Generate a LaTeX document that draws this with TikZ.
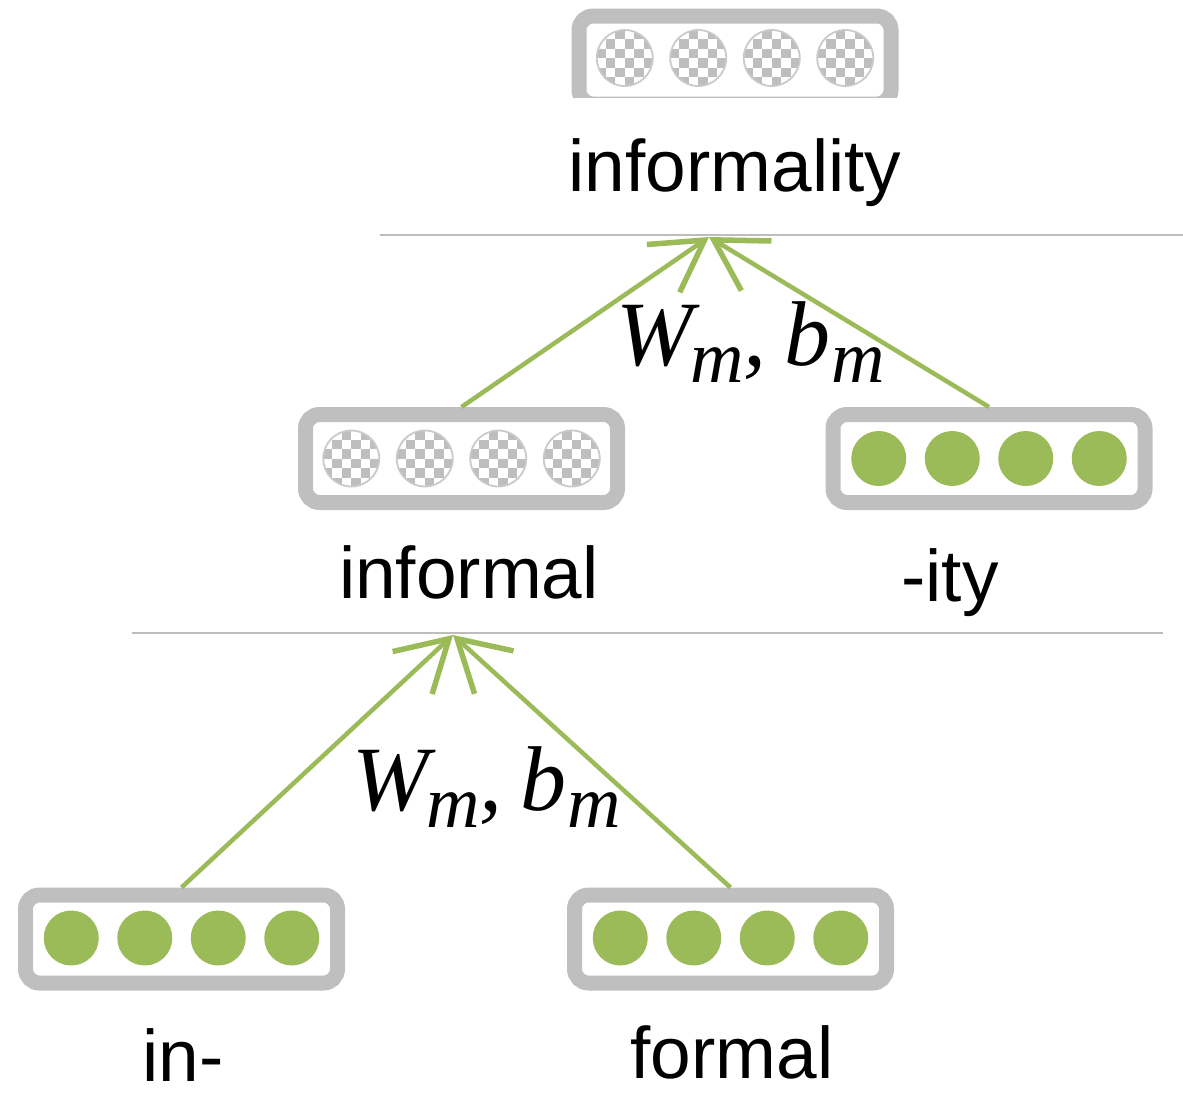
\documentclass[tikz,border=0pt]{standalone}
\usepackage{fontspec}
\setmainfont{Liberation Sans}
\newfontfamily\symfont{Liberation Serif}
\usetikzlibrary{arrows.meta}

\definecolor{leafgreen}{HTML}{9BBB59}
\definecolor{framegray}{HTML}{BFBFBF}
\definecolor{checkgray}{HTML}{BEBEBE}
\definecolor{ringgray}{HTML}{CACACA}
\definecolor{rulegray}{HTML}{BDBDBD}

\tikzset{
  wordbox/.style={draw=framegray, line width=15pt, rounded corners=14pt,
    minimum width=312pt, minimum height=88pt, inner sep=0pt},
  word/.style={font=\fontsize{73}{80}\selectfont, inner sep=0pt, anchor=base},
  weights/.style={font=\symfont\itshape\fontsize{92}{96}\selectfont,
    inner sep=0pt, anchor=base},
  rule/.style={draw=rulegray, line width=2pt},
  link/.style={draw=leafgreen, line width=4.5pt,
    -{Straight Barb[length=50pt, width=58pt, line width=5.5pt]}},
}

% subscript m, set large and lowered
\newcommand\subm{\raisebox{-17pt}{\fontsize{74}{74}\selectfont m}}
% composition parameters W_m, b_m
\newcommand\params{W\kern-3pt\subm,\kern18pt b\kern1pt\subm}

% four filled green units centred on (#1,#2)
\newcommand\solidrow[2]{%
  \foreach \dx in {-110.25,-36.75,36.75,110.25}{%
    \fill[leafgreen] (#1+\dx,#2) circle (27.5);}}

% four checkered (unknown) units centred on (#1,#2)
\newcommand\checkrow[2]{%
  \foreach \dx in {-110.25,-36.75,36.75,110.25}{%
    \begin{scope}
      \clip (#1+\dx,#2) circle (28);
      \foreach \i in {-3,...,2}{%
        \foreach \j in {-3,...,2}{%
          \pgfmathtruncatemacro\chk{mod(\i+\j+8,2)}%
          \ifnum\chk=0
            \fill[checkgray] (#1+\dx+\i*9.5,#2+\j*9.5) rectangle ++(9.5,9.5);
          \fi}}
    \end{scope}
    \draw[ringgray, line width=1.8pt] (#1+\dx,#2) circle (28);}}

\begin{document}
\begin{tikzpicture}[x=1pt, y=-1pt]
  \useasboundingbox (0,0) rectangle (1183,1106);

  % level separators
  \draw[rule] (380,235) -- (1183,235);
  \draw[rule] (132,633) -- (1163,633);

  % word / morpheme vectors
  \begin{scope}
    \clip (0,0) rectangle (1183,97);
    \node[wordbox] (whole) at (735,60) {};
  \end{scope}
  \checkrow{735}{58}
  \node[wordbox] (stem) at (461.5,458.5) {};
  \checkrow{461.5}{458.5}
  \node[wordbox] (suffix) at (989,458.5) {};
  \solidrow{989}{458.5}
  \node[wordbox] (prefix) at (181.5,939) {};
  \solidrow{181.5}{938}
  \node[wordbox] (root) at (730.5,939) {};
  \solidrow{730.5}{938}

  % labels
  \node[word] (lwhole) at (735,191) {informality};
  \node[word] (lstem) at (469,598) {informal};
  \node[word] (lsuffix) at (950,601) {-ity};
  \node[word] (lprefix) at (183,1081) {in-};
  \node[word] (lroot) at (732,1078) {formal};

  % composition arrows
  \coordinate (upper) at (709,237);
  \coordinate (lower) at (453,635);
  \draw[link] (stem.north) -- (upper);
  \draw[link] (suffix.north) -- (upper);
  \draw[link] (prefix.north) -- (lower);
  \draw[link] (root.north) -- (lower);

  \node[weights] (wupper) at (751,365) {\params};
  \node[weights] (wlower) at (487,810) {\params};
\end{tikzpicture}
\end{document}
